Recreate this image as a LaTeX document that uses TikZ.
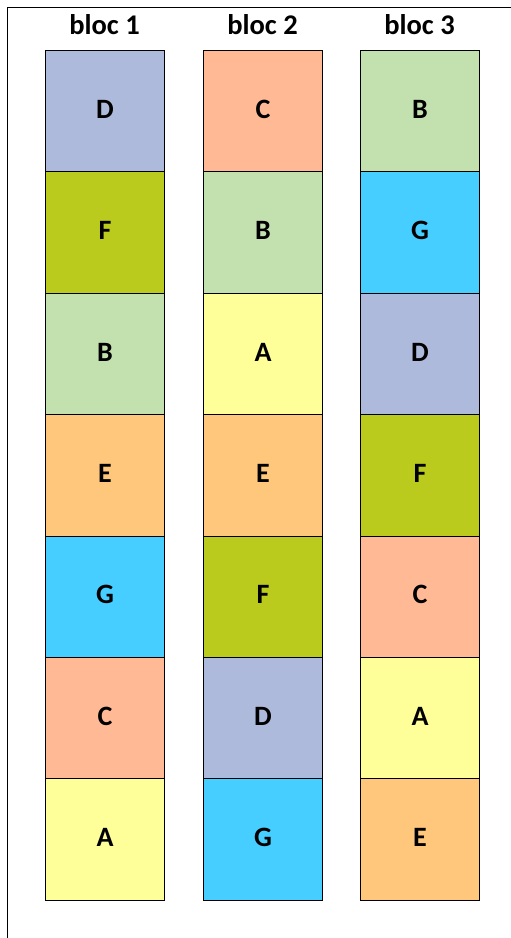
\documentclass[tikz,border=0pt]{standalone}
\usepackage{fontspec}
\setmainfont{Carlito}
\definecolor{cD}{HTML}{AEBADC}
\definecolor{cF}{HTML}{BBCB1E}
\definecolor{cB}{HTML}{C3E1AE}
\definecolor{cE}{HTML}{FFC77C}
\definecolor{cG}{HTML}{45CEFF}
\definecolor{cC}{HTML}{FFB995}
\definecolor{cA}{HTML}{FFFF99}
\tikzset{
  cell/.style={draw=black, line width=1pt, minimum width=119pt, minimum height=121.4pt, inner sep=0pt, anchor=north west},
  lbl/.style={font=\fontsize{28}{32}\selectfont\bfseries, inner sep=0pt},
  title/.style={font=\fontsize{28.5}{33}\selectfont\bfseries, inner sep=0pt},
  frame/.style={draw=black, line width=1pt}
}
\begin{document}
\begin{tikzpicture}[x=1pt,y=-1pt]
\useasboundingbox (0,0) rectangle (511,938);
\coordinate (tl) at (7.5,7.5);
\coordinate (tr) at (511,7.5);
\coordinate (bl) at (7.5,938);
\draw[frame] (tr) -- (tl) -- (bl);
\node[title] (t1) at (104.5,25) {bloc 1};
\node[title] (t2) at (262.5,25) {bloc 2};
\node[title] (t3) at (419.5,25) {bloc 3};
\foreach \col/\x in {1/45,2/203,3/360}{
  \ifcase\col\or
    \def\letters{D,F,B,E,G,C,A}\or
    \def\letters{C,B,A,E,F,D,G}\or
    \def\letters{B,G,D,F,C,A,E}\fi
  \foreach \L [count=\i from 0] in \letters {
    \node[cell, fill=c\L] (b\col-\i) at (\x, 50+\i*121.4) {};
    \node[lbl] (l\col-\i) at ([yshift=2pt]b\col-\i.center) {\L};
  }
}
\end{tikzpicture}
\end{document}
